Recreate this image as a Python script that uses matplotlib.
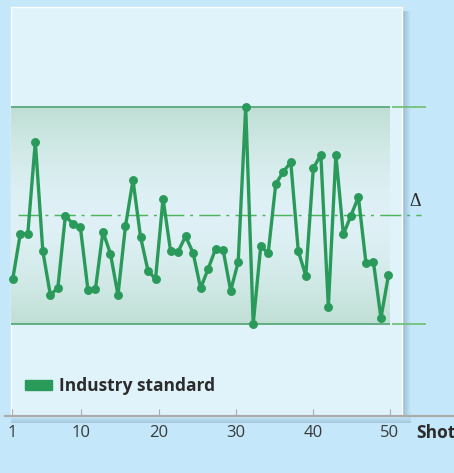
import matplotlib.pyplot as plt
import numpy as np
from matplotlib.patches import Patch, Rectangle

plt.rcParams["font.family"] = ["Open Sans", "DejaVu Sans"]

# measurements per shot, scaled so the industry band runs from 0 to 10
measurements = [2.07, 4.15, 4.15, 8.41, 3.35, 1.33, 1.65, 4.99, 4.61, 4.45,
                1.57, 1.59, 4.25, 3.23, 1.33, 4.51, 6.64, 4.02, 2.44, 2.07,
                5.78, 3.36, 3.33, 4.04, 3.27, 1.64, 2.53, 3.47, 3.40, 1.52,
                2.85, 10.0, 0.0, 3.57, 3.27, 6.46, 7.02, 7.46, 3.35, 2.22,
                7.19, 7.80, 0.79, 7.80, 4.13, 4.99, 5.85, 2.82, 2.85, 0.26,
                2.24]
lower_limit = 0.0
upper_limit = 10.0
target = 5.0
shot_ticks = [1, 10, 20, 30, 40, 50]
legend_label = "Industry standard"
x_label = "Shot"
delta_label = "\u0394"

BG = "#c4e7f9"
PANEL = "#e0f3fb"
GREEN = "#2a9a5a"
BAND_EDGE = np.array([0.75, 0.875, 0.83])
BAND_MID = np.array([0.875, 0.945, 0.965])
LIMIT_IN = "#5aa87a"
LIMIT_OUT = "#6cbf6c"
TARGET_C = "#4db45a"
AXIS_C = "#ababab"
TEXT_C = "#2b2b2b"

W, H = 454, 473
X1_PX, X50_PX = 12, 390  # pixel columns of shot 1 and shot 50
Y_LO_PX, Y_HI_PX = 323.7, 107.3  # pixel rows of the lower and upper limits
sx = (X50_PX - X1_PX) / 49
sy = (Y_LO_PX - Y_HI_PX) / (upper_limit - lower_limit)


def xd(px):
    return 1 + (px - X1_PX) / sx


def yd(py):
    return lower_limit + (Y_LO_PX - py) / sy


fig = plt.figure(figsize=(W / 100, H / 100), dpi=100, facecolor=BG)

# background: panel and its shadow, in pixel units
ax_bg = fig.add_axes([0, 0, 1, 1], zorder=0)
ax_bg.axis("off")
shade = np.zeros((1, 20, 4))
shade[..., :3] = [0.35, 0.5, 0.62]
shade[..., 3] = np.linspace(0.45, 0.0, 20)
ax_bg.imshow(shade, extent=(402, 411, 416, 12), aspect="auto", zorder=1)
shade_b = np.zeros((20, 1, 4))
shade_b[..., :3] = [0.35, 0.5, 0.62]
shade_b[..., 3] = np.linspace(0.3, 0.0, 20)[:, None]
ax_bg.imshow(shade_b, extent=(11, 411, 416, 423), aspect="auto", zorder=1)
ax_bg.add_patch(Rectangle((11.3, 7), 402 - 11.3, 416 - 7, facecolor=PANEL,
                          edgecolor="white", linewidth=1, zorder=2))
ax_bg.set_xlim(0, W)
ax_bg.set_ylim(H, 0)

ax = fig.add_axes([0, 0, 1, 1], zorder=1)
ax.patch.set_visible(False)

# band gradient
t = np.linspace(-1, 1, 200)
w = (np.abs(t) ** 1.6)[:, None]
grad = (BAND_MID * (1 - w) + BAND_EDGE * w)[:, None, :]
ax.imshow(grad, extent=(xd(11.3), xd(390), lower_limit, upper_limit),
          aspect="auto", zorder=1, interpolation="bilinear")

ax.hlines([lower_limit, upper_limit], xd(11.3), xd(390), color=LIMIT_IN,
          linewidth=1.3, zorder=2)
ax.hlines([lower_limit, upper_limit], xd(392), xd(425.7), color=LIMIT_OUT,
          linewidth=1.2, zorder=2)
ax.plot([xd(18), xd(421)], [target, target], color=TARGET_C, linewidth=1.05,
        linestyle=(0, (14.5, 4, 2, 4.3)), zorder=2)

shots = np.linspace(1.1, 49.8, len(measurements))
ax.plot(shots, measurements, "-o", color=GREEN, linewidth=2.4,
        markersize=5.4, zorder=3)

ax.text(xd(415), yd(201), delta_label, family="Liberation Serif",
        fontsize=13, color=TEXT_C, ha="center", va="center")

ax.set_xlim(xd(0), xd(W))
ax.set_ylim(yd(H), yd(0))

for side in ["top", "left", "right"]:
    ax.spines[side].set_visible(False)
ax.spines["bottom"].set_position(("data", yd(416)))
ax.spines["bottom"].set_bounds(xd(5), xd(W))
ax.spines["bottom"].set_color(AXIS_C)
ax.spines["bottom"].set_linewidth(1.6)
ax.set_xticks(shot_ticks)
ax.set_yticks([])
ax.tick_params(axis="x", direction="in", length=5, width=0.8, color=AXIS_C,
               pad=6.5, labelsize=12, labelcolor="#3a3a3a")

leg = ax.legend(handles=[Patch(color=GREEN, label=legend_label)],
                loc="center left", bbox_to_anchor=(25 / W, 1 - 386 / H),
                bbox_transform=fig.transFigure, frameon=False, borderpad=0,
                borderaxespad=0, handlelength=1.55, handleheight=0.55,
                handletextpad=0.4, labelcolor=TEXT_C,
                prop={"weight": "bold", "size": 12.5})

fig.text(416 / W, 1 - 433 / H, x_label, fontsize=12.5, fontweight="bold",
         color=TEXT_C, ha="left", va="center")

fig.savefig("out.png", dpi=100, facecolor=BG)
